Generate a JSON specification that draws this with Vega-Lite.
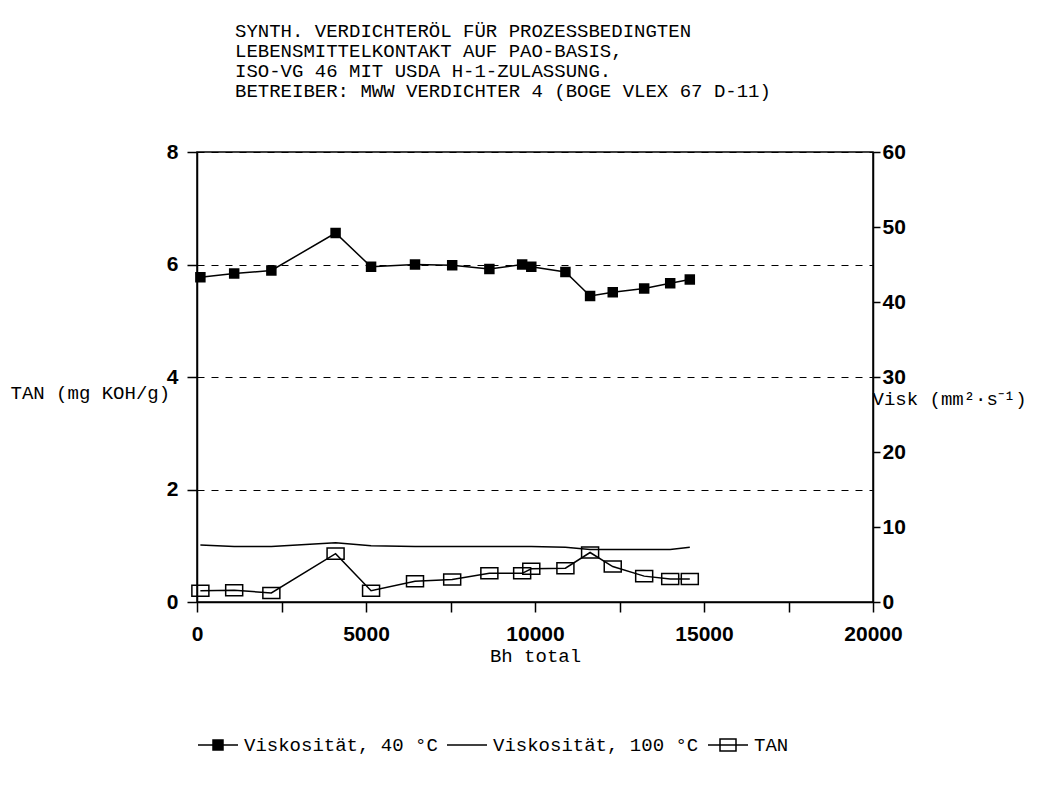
{
  "$schema": "https://vega.github.io/schema/vega-lite/v6.json",
  "width": 676,
  "height": 450,
  "autosize": {"type": "none"},
  "padding": {"left": 197, "top": 152, "right": 167, "bottom": 205},
  "background": "white",
  "title": {
    "text": ["SYNTH. VERDICHTERÖL FÜR PROZESSBEDINGTEN", "LEBENSMITTELKONTAKT AUF PAO-BASIS,", "ISO-VG 46 MIT USDA H-1-ZULASSUNG.", "BETREIBER: MWW VERDICHTER 4 (BOGE VLEX 67 D-11)"],
    "anchor": "start",
    "frame": "group",
    "dx": 38,
    "offset": 40,
    "font": "Liberation Mono",
    "fontSize": 19,
    "fontWeight": "normal",
    "lineHeight": 20,
    "color": "black"
  },
  "config": {
    "view": {"stroke": "black", "strokeWidth": 1.5},
    "axis": {
      "domainColor": "black",
      "domainWidth": 1.5,
      "tickColor": "black",
      "tickWidth": 1.5,
      "labelColor": "black",
      "labelFont": "Liberation Sans",
      "labelFontSize": 21,
      "labelFontWeight": "bold",
      "titleColor": "black",
      "titleFont": "Liberation Mono",
      "titleFontSize": 19,
      "titleFontWeight": "normal"
    }
  },
  "data": {
    "values": [
      {"bh": 100, "series": "Viskosität, 40 °C", "value": 43.3},
      {"bh": 1100, "series": "Viskosität, 40 °C", "value": 43.8},
      {"bh": 2200, "series": "Viskosität, 40 °C", "value": 44.2},
      {"bh": 4100, "series": "Viskosität, 40 °C", "value": 49.2},
      {"bh": 5150, "series": "Viskosität, 40 °C", "value": 44.7},
      {"bh": 6450, "series": "Viskosität, 40 °C", "value": 45.0},
      {"bh": 7550, "series": "Viskosität, 40 °C", "value": 44.9},
      {"bh": 8650, "series": "Viskosität, 40 °C", "value": 44.4},
      {"bh": 9620, "series": "Viskosität, 40 °C", "value": 45.0},
      {"bh": 9890, "series": "Viskosität, 40 °C", "value": 44.7},
      {"bh": 10900, "series": "Viskosität, 40 °C", "value": 44.0},
      {"bh": 11630, "series": "Viskosität, 40 °C", "value": 40.8},
      {"bh": 12300, "series": "Viskosität, 40 °C", "value": 41.3},
      {"bh": 13230, "series": "Viskosität, 40 °C", "value": 41.8},
      {"bh": 14000, "series": "Viskosität, 40 °C", "value": 42.5},
      {"bh": 14580, "series": "Viskosität, 40 °C", "value": 43.0},
      {"bh": 100, "series": "Viskosität, 100 °C", "value": 7.6},
      {"bh": 1100, "series": "Viskosität, 100 °C", "value": 7.4},
      {"bh": 2200, "series": "Viskosität, 100 °C", "value": 7.4},
      {"bh": 4100, "series": "Viskosität, 100 °C", "value": 7.9},
      {"bh": 5150, "series": "Viskosität, 100 °C", "value": 7.5},
      {"bh": 6450, "series": "Viskosität, 100 °C", "value": 7.4},
      {"bh": 7550, "series": "Viskosität, 100 °C", "value": 7.4},
      {"bh": 8650, "series": "Viskosität, 100 °C", "value": 7.4},
      {"bh": 9620, "series": "Viskosität, 100 °C", "value": 7.4},
      {"bh": 9890, "series": "Viskosität, 100 °C", "value": 7.4},
      {"bh": 10900, "series": "Viskosität, 100 °C", "value": 7.3},
      {"bh": 11630, "series": "Viskosität, 100 °C", "value": 7.0},
      {"bh": 12300, "series": "Viskosität, 100 °C", "value": 7.0},
      {"bh": 13230, "series": "Viskosität, 100 °C", "value": 7.0},
      {"bh": 14000, "series": "Viskosität, 100 °C", "value": 7.0},
      {"bh": 14580, "series": "Viskosität, 100 °C", "value": 7.3},
      {"bh": 100, "series": "TAN", "value": 0.20},
      {"bh": 1100, "series": "TAN", "value": 0.21},
      {"bh": 2200, "series": "TAN", "value": 0.16},
      {"bh": 4100, "series": "TAN", "value": 0.86},
      {"bh": 5150, "series": "TAN", "value": 0.20},
      {"bh": 6450, "series": "TAN", "value": 0.37},
      {"bh": 7550, "series": "TAN", "value": 0.40},
      {"bh": 8650, "series": "TAN", "value": 0.51},
      {"bh": 9620, "series": "TAN", "value": 0.51},
      {"bh": 9890, "series": "TAN", "value": 0.59},
      {"bh": 10900, "series": "TAN", "value": 0.60},
      {"bh": 11630, "series": "TAN", "value": 0.88},
      {"bh": 12300, "series": "TAN", "value": 0.63},
      {"bh": 13230, "series": "TAN", "value": 0.46},
      {"bh": 14000, "series": "TAN", "value": 0.41},
      {"bh": 14580, "series": "TAN", "value": 0.41}
    ]
  },
  "encoding": {
    "x": {
      "field": "bh",
      "type": "quantitative",
      "scale": {"domain": [0, 20000], "nice": false},
      "axis": {
        "values": [0, 2500, 5000, 7500, 10000, 12500, 15000, 17500, 20000],
        "format": "d",
        "labelExpr": "datum.value % 5000 === 0 ? datum.label : ''",
        "grid": false,
        "tickSize": 10,
        "labelPadding": 11,
        "labelFlush": false,
        "labelOverlap": false,
        "title": "Bh total",
        "titleY": 53,
        "titleBaseline": "middle"
      }
    }
  },
  "layer": [
    {
      "transform": [{"filter": "datum.series === 'TAN'"}],
      "encoding": {
        "y": {
          "field": "value",
          "type": "quantitative",
          "scale": {"domain": [0, 8], "nice": false},
          "axis": {
            "orient": "left",
            "values": [0, 2, 4, 6, 8],
            "grid": true,
            "gridDash": [7, 7],
            "gridColor": "black",
            "gridWidth": 1,
            "gridOpacity": 1,
            "tickSize": 10,
            "labelPadding": 9,
            "title": "TAN (mg KOH/g)",
            "titleAngle": 0,
            "titleX": -187,
            "titleY": 240,
            "titleAlign": "left",
            "titleBaseline": "middle"
          }
        }
      },
      "layer": [
        {"mark": {"type": "line", "color": "black", "strokeWidth": 1.5}},
        {"mark": {"type": "point", "shape": "M-1,-0.65H1V0.65H-1Z", "size": 289, "filled": false, "color": "black", "strokeWidth": 1.5, "opacity": 1}}
      ]
    },
    {
      "transform": [{"filter": "datum.series !== 'TAN'"}],
      "encoding": {
        "y": {
          "field": "value",
          "type": "quantitative",
          "scale": {"domain": [0, 60], "nice": false},
          "axis": {
            "orient": "right",
            "values": [0, 10, 20, 30, 40, 50, 60],
            "grid": false,
            "tickSize": 7,
            "labelPadding": 2,
            "title": "Visk (mm²·s⁻¹)",
            "titleAngle": 0,
            "titleX": -1,
            "titleY": 246,
            "titleAlign": "left",
            "titleBaseline": "middle"
          }
        }
      },
      "layer": [
        {"mark": {"type": "line", "color": "black", "strokeWidth": 1.5}, "encoding": {"detail": {"field": "series"}}},
        {"transform": [{"filter": "datum.series === 'Viskosität, 40 °C'"}], "mark": {"type": "square", "size": 110, "filled": true, "color": "black", "opacity": 1}},
        {
          "mark": {"type": "point", "opacity": 0, "filled": true, "strokeWidth": 1.5},
          "encoding": {
            "fill": {
              "field": "series",
              "type": "nominal",
              "scale": {
                "domain": ["Viskosität, 40 °C", "Viskosität, 100 °C", "TAN"],
                "range": ["black", "black", "white"]
              },
              "legend": null
            },
            "stroke": {
              "field": "series",
              "type": "nominal",
              "scale": {
                "domain": ["Viskosität, 40 °C", "Viskosität, 100 °C", "TAN"],
                "range": ["black", "black", "black"]
              },
              "legend": null
            },
            "shape": {
              "field": "series",
              "type": "nominal",
              "scale": {
                "domain": ["Viskosität, 40 °C", "Viskosität, 100 °C", "TAN"],
                "range": ["M-1,0H1M-0.25,-0.25H0.25V0.25H-0.25Z", "M-1,0H1", "M-1,0H1M-0.4,-0.3H0.4V0.3H-0.4Z"]
              },
              "legend": {
                "orient": "none",
                "legendX": 0,
                "legendY": 572,
                "direction": "horizontal",
                "title": null,
                "labelFont": "Liberation Mono",
                "labelFontSize": 19,
                "labelColor": "black",
                "labelLimit": 0,
                "symbolSize": 1600,
                "symbolStrokeWidth": 1.5,
                "symbolStrokeColor": "black",
                "symbolOpacity": 1,
                "labelOffset": 5,
                "columnPadding": 6,
                "padding": 0,
                "encode": {
                  "symbols": {
                    "update": {
                      "fill": {"scale": "fill", "field": "value"},
                      "stroke": {"value": "black"},
                      "strokeWidth": {"value": 1.5},
                      "opacity": {"value": 1}
                    }
                  }
                }
              }
            }
          }
        }
      ]
    }
  ],
  "resolve": {"scale": {"y": "independent"}}
}
